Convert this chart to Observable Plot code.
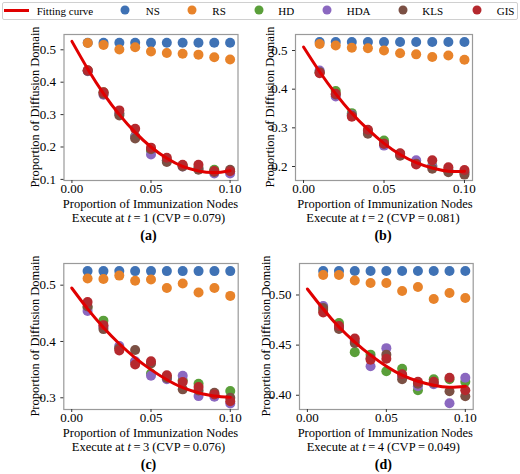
<!DOCTYPE html>
<html>
<head>
<meta charset="utf-8">
<script src="https://cdn.jsdelivr.net/npm/d3@7"></script>
<script src="https://cdn.jsdelivr.net/npm/@observablehq/plot@0.6"></script>
<style>
  html, body { margin: 0; padding: 0; background: #fff; }
  #root { position: relative; width: 520px; height: 474px; overflow: hidden; font-family: 'Liberation Serif', 'DejaVu Serif', 'Times New Roman', Times, serif; color: #000; }
  .t { position: absolute; white-space: nowrap; line-height: 1; transform: translate(-50%, -50%); font-size: 12.5px; }
  .yl { transform: translate(-50%, -50%) rotate(-90deg); }
  .cap { font-weight: bold; font-size: 14px; }
  .leg { position: absolute; left: 1.5px; top: 1.5px; width: 516px; height: 18px; border: 1px solid #d0d0d0; border-radius: 2px; box-sizing: border-box; }
  .li { position: absolute; font-size: 11px; line-height: 1; transform: translateY(-50%); white-space: nowrap; }
  .lc { position: absolute; width: 9px; height: 9px; border-radius: 50%; transform: translate(-50%, -50%); }
  svg text { font-family: 'Liberation Serif', 'DejaVu Serif', 'Times New Roman', Times, serif !important; }
</style>
</head>
<body>
<div id="root"></div>
<script>
// ---- data ----
const xs = [0.01, 0.02, 0.03, 0.04, 0.05, 0.06, 0.07, 0.08, 0.09, 0.10];
const fitX = [0, 0.01, 0.02, 0.03, 0.04, 0.05, 0.06, 0.07, 0.08, 0.09, 0.10];
const seriesNames = ["NS", "RS", "HD", "HDA", "KLS", "GIS"];
const seriesColors = ["#3f72b5", "#e8832a", "#5a9f3a", "#8b68c0", "#7b5044", "#b5292e"];
const fitColor = "#e00000";

// (a) t = 1
const nsA  = [0.522, 0.522, 0.522, 0.522, 0.522, 0.522, 0.522, 0.522, 0.522, 0.522];
const rsA  = [0.521, 0.515, 0.501, 0.508, 0.495, 0.490, 0.488, 0.485, 0.477, 0.470];
const hdA  = [0.436, 0.369, 0.303, 0.233, 0.189, 0.159, 0.143, 0.136, 0.130, 0.125];
const hdaA = [0.434, 0.361, 0.303, 0.231, 0.177, 0.159, 0.140, 0.133, 0.118, 0.118];
const klsA = [0.435, 0.364, 0.297, 0.226, 0.193, 0.154, 0.140, 0.130, 0.123, 0.130];
const gisA = [0.437, 0.369, 0.313, 0.256, 0.198, 0.167, 0.145, 0.145, 0.126, 0.125];
const fitA = [0.526, 0.441, 0.365, 0.300, 0.245, 0.200, 0.165, 0.140, 0.126, 0.121, 0.127];

// (b) t = 2
const nsB  = [0.522, 0.522, 0.522, 0.522, 0.522, 0.522, 0.522, 0.522, 0.522, 0.522];
const rsB  = [0.517, 0.513, 0.507, 0.506, 0.500, 0.493, 0.490, 0.483, 0.487, 0.476];
const hdB  = [0.444, 0.395, 0.338, 0.293, 0.267, 0.233, 0.209, 0.202, 0.191, 0.185];
const hdaB = [0.448, 0.381, 0.334, 0.289, 0.254, 0.231, 0.216, 0.200, 0.190, 0.185];
const klsB = [0.444, 0.386, 0.332, 0.285, 0.259, 0.228, 0.207, 0.194, 0.185, 0.179];
const gisB = [0.441, 0.388, 0.329, 0.295, 0.259, 0.234, 0.205, 0.216, 0.198, 0.191];
const fitB = [0.509, 0.445, 0.388, 0.338, 0.296, 0.260, 0.231, 0.210, 0.196, 0.188, 0.188];

// (c) t = 3
const nsC  = [0.525, 0.525, 0.525, 0.525, 0.525, 0.525, 0.525, 0.525, 0.525, 0.525];
const rsC  = [0.512, 0.511, 0.517, 0.508, 0.510, 0.495, 0.503, 0.487, 0.495, 0.481];
const hdC  = [0.460, 0.437, 0.389, 0.364, 0.343, 0.337, 0.331, 0.325, 0.305, 0.312];
const hdaC = [0.454, 0.426, 0.392, 0.365, 0.339, 0.333, 0.339, 0.303, 0.302, 0.290];
const klsC = [0.462, 0.422, 0.388, 0.385, 0.361, 0.335, 0.315, 0.313, 0.309, 0.300];
const gisC = [0.470, 0.429, 0.384, 0.359, 0.365, 0.340, 0.328, 0.319, 0.306, 0.294];
const fitC = [0.495, 0.458, 0.425, 0.396, 0.371, 0.350, 0.332, 0.318, 0.309, 0.303, 0.301];

// (d) t = 4
const nsD  = [0.524, 0.524, 0.524, 0.524, 0.524, 0.524, 0.524, 0.524, 0.524, 0.524];
const rsD  = [0.520, 0.520, 0.5145, 0.512, 0.512, 0.504, 0.508, 0.496, 0.502, 0.497];
const hdD  = [0.485, 0.472, 0.443, 0.4405, 0.424, 0.4265, 0.405, 0.416, 0.416, 0.4135];
const hdaD = [0.489, 0.468, 0.454, 0.429, 0.447, 0.419, 0.409, 0.411, 0.392, 0.4175];
const klsD = [0.487, 0.466, 0.452, 0.437, 0.4405, 0.416, 0.4115, 0.4125, 0.404, 0.399];
const gisD = [0.4825, 0.469, 0.4565, 0.4355, 0.4365, 0.421, 0.4135, 0.4135, 0.4175, 0.405];
const fitD = [0.506, 0.486, 0.468, 0.453, 0.440, 0.429, 0.420, 0.414, 0.410, 0.408, 0.409];

const xTicks = [0, 0.05, 0.10];
const yTicksA = [0.1, 0.2, 0.3, 0.4, 0.5];
const yTicksB = [0.2, 0.3, 0.4, 0.5];
const yTicksC = [0.3, 0.4, 0.5];
const yTicksD = [0.40, 0.45, 0.50];
const tValues = ["1", "2", "3", "4"];
const cvpValues = ["0.079", "0.081", "0.076", "0.049"];
const panelTags = ["(a)", "(b)", "(c)", "(d)"];
const xLabel = "Proportion of Immunization Nodes";
const yLabel = "Proportion of Diffusion Domain";

const FONT = "'Liberation Serif', 'DejaVu Serif', 'Times New Roman', Times, serif";

// ---- layout ----
const root = document.getElementById("root");

const panels = [
  {series: [nsA, rsA, hdA, hdaA, klsA, gisA], fit: fitA, yDomain: [0.0966, 0.5472], yTicks: yTicksA, yFmt: ".1f",
   left: 0, top: 24, ml: 63.5, mr: 22.5, ylx: 35, xc: 150.5, rowY: 180},
  {series: [nsB, rsB, hdB, hdaB, klsB, gisB], fit: fitB, yDomain: [0.1638, 0.5414], yTicks: yTicksB, yFmt: ".1f",
   left: 260, top: 24, ml: 35, mr: 48, ylx: 270, xc: 385, rowY: 180},
  {series: [nsC, rsC, hdC, hdaC, klsC, gisC], fit: fitC, yDomain: [0.2792, 0.5385], yTicks: yTicksC, yFmt: ".1f",
   left: 0, top: 253, ml: 63.3, mr: 22.3, ylx: 35.3, xc: 150.5, rowY: 409},
  {series: [nsD, rsD, hdD, hdaD, klsD, gisD], fit: fitD, yDomain: [0.3858, 0.5314], yTicks: yTicksD, yFmt: ".2f",
   left: 260, top: 253, ml: 39, mr: 47.3, ylx: 266, xc: 385.3, rowY: 409}
];

function addText(html, cx, cy, cls) {
  const el = document.createElement("div");
  el.className = "t " + (cls || "");
  el.innerHTML = html;
  el.style.left = cx + "px";
  el.style.top = cy + "px";
  root.appendChild(el);
  return el;
}

panels.forEach((p, k) => {
  const dots = p.series.map((arr, s) =>
    Plot.dot(arr, {x: (d, i) => xs[i], y: d => d, r: 5, fill: seriesColors[s], stroke: "none"})
  );
  const svg = Plot.plot({
    width: 260,
    height: 176,
    marginTop: 10,
    marginBottom: 20,
    marginLeft: p.ml,
    marginRight: p.mr,
    style: {fontFamily: FONT, fontSize: "13px", color: "#000", background: "transparent", overflow: "visible"},
    x: {domain: [-0.005, 0.105]},
    y: {domain: p.yDomain},
    marks: [
      ...dots,
      Plot.line(p.fit, {x: (d, i) => fitX[i], y: d => d, stroke: fitColor, strokeWidth: 3, curve: "natural"}),
      Plot.frame({stroke: "#9a9a9a", strokeWidth: 1.2}),
      Plot.axisX({ticks: xTicks, tickFormat: d3.format(".2f"), tickSize: 3, tickPadding: 0, fontSize: 13, label: null, stroke: "#333"}),
      Plot.axisY({ticks: p.yTicks, tickFormat: d3.format(p.yFmt), tickSize: 3, tickPadding: 5, fontSize: 13, label: null, stroke: "#333"})
    ]
  });
  svg.style.position = "absolute";
  svg.style.left = p.left + "px";
  svg.style.top = p.top + "px";
  root.appendChild(svg);

  addText(yLabel, p.ylx, p.rowY - 73, "yl");
  addText(xLabel, p.xc, p.rowY + 23.5);
  addText("Execute at <i>t</i>\u2009=\u2009" + tValues[k] + " (CVP\u2009=\u2009" + cvpValues[k] + ")", p.xc - 2, p.rowY + 37.5);
  addText(panelTags[k], p.xc - 2, p.rowY + 55.5, "cap");
});

// ---- legend ----
const leg = document.createElement("div");
leg.className = "leg";
root.appendChild(leg);
const lineSw = document.createElement("div");
lineSw.style.cssText = "position:absolute;left:4px;top:8.8px;width:25px;height:3px;background:" + fitColor + ";";
root.appendChild(lineSw);
function legText(txt, x) {
  const el = document.createElement("div");
  el.className = "li";
  el.textContent = txt;
  el.style.left = x + "px";
  el.style.top = "10.5px";
  root.appendChild(el);
}
legText("Fitting curve", 36.7);
const legCircleX = [125, 192.3, 259.3, 327.3, 403.3, 476.7];
const legTextX = [145.7, 212.3, 278.3, 346.7, 422.3, 496.7];
seriesNames.forEach((n, i) => {
  const c = document.createElement("div");
  c.className = "lc";
  c.style.left = legCircleX[i] + "px";
  c.style.top = "10.3px";
  c.style.background = seriesColors[i];
  root.appendChild(c);
  legText(n, legTextX[i]);
});
</script>
</body>
</html>
